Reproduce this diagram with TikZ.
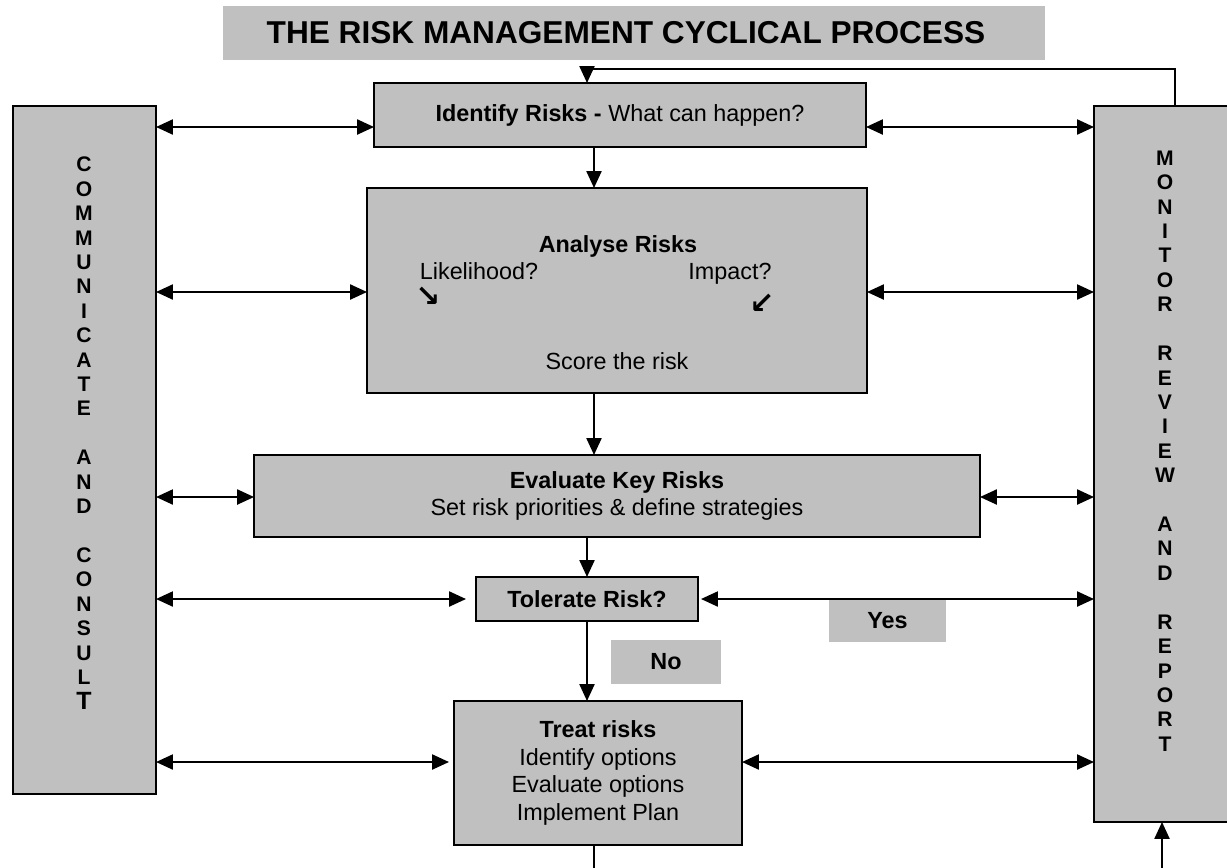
\documentclass[tikz,border=0pt]{standalone}
\usepackage{fontspec}
\setmainfont{Liberation Sans}
\newfontfamily\arrowfont{DejaVu Sans}
\usetikzlibrary{arrows.meta,positioning,calc}
\definecolor{panelgray}{RGB}{192,192,192}

\begin{document}
\begin{tikzpicture}[
    x=0.02cm, y=-0.02cm,
    box/.style={draw, line width=1pt, fill=panelgray, inner sep=0pt, outer sep=0pt, align=center, font=\fontsize{13.3}{15.8}\selectfont},
    tag/.style={fill=panelgray, inner sep=0pt, outer sep=0pt, font=\bfseries\fontsize{13.3}{16}\selectfont},
    sidebar/.style={draw, line width=1pt, fill=panelgray, inner sep=0pt, outer sep=0pt},
    lettering/.style={align=center, inner sep=0pt, font=\bfseries\fontsize{12}{13.9}\selectfont},
    pointer/.style={anchor=base, font=\arrowfont\bfseries\fontsize{17}{18}\selectfont},
    arrow/.style={-{Triangle[length=3.4mm, width=3mm]}, line width=1.3pt},
    dblarrow/.style={{Triangle[length=3.4mm, width=3mm]}-{Triangle[length=3.4mm, width=3mm]}, line width=1.3pt},
    every node/.style={font=\fontsize{13.3}{15.8}\selectfont}
]
\useasboundingbox (0,0) rectangle (1227,867);

% Title
\node[tag, minimum width=16.44cm, minimum height=1.08cm] (title) at (634,33) {};
\node[font=\bfseries\fontsize{18}{20}\selectfont] (titletxt) at (626,33) {THE RISK MANAGEMENT CYCLICAL PROCESS};

% Side panels
\node[sidebar, minimum width=2.86cm, minimum height=13.76cm] (comm) at (84.5,450) {};
\node[lettering] (commtxt) at (84,433) {C\\O\\M\\M\\U\\N\\I\\C\\A\\T\\E\\[13.9pt]A\\N\\D\\[13.9pt]C\\O\\N\\S\\U\\L\\{\fontsize{14.2}{13.9}\selectfont T}};
\node[sidebar, minimum width=2.84cm, minimum height=14.32cm] (monitor) at (1165,464) {};
\node[lettering] (montxt) at (1165,451) {M\\O\\N\\I\\T\\O\\R\\[13.9pt]R\\E\\V\\I\\E\\W\\[13.9pt]A\\N\\D\\[13.9pt]R\\E\\P\\O\\R\\T};

% Process steps
\node[box, minimum width=9.84cm, minimum height=1.28cm] (identify) at (620,115) {\textbf{Identify Risks -} What can happen?};
\node[box, minimum width=10cm, minimum height=4.1cm] (analyse) at (617,290.5) {};
\node[font=\bfseries\fontsize{13.3}{16}\selectfont] (analysehd) at (618,246) {Analyse Risks};
\node[anchor=base] (likely) at (479,279) {Likelihood?};
\node[anchor=base] (impact) at (730,279) {Impact?};
\node[pointer] (downright) at (428,306) {↘};
\node[pointer] (downleft) at (762,313) {↙};
\node (score) at (617,361) {Score the risk};
\node[box, minimum width=14.52cm, minimum height=1.64cm] (evaluate) at (617,496) {\textbf{Evaluate Key Risks}\\Set risk priorities \& define strategies};
\node[box, minimum width=4.44cm, minimum height=0.88cm, font=\bfseries\fontsize{13.3}{16}\selectfont] (tolerate) at (587,599) {Tolerate Risk?};
\node[box, minimum width=5.76cm, minimum height=2.88cm] (treat) at (598,773) {\textbf{Treat risks}\\Identify options\\Evaluate options\\Implement Plan};
\node[tag, minimum width=2.2cm, minimum height=0.88cm] (no) at (666,662) {No};
\node[tag, minimum width=2.34cm, minimum height=0.86cm] (yes) at (887.5,620.5) {Yes};

% Helper rows and columns
\coordinate (rowA) at (0,127);
\coordinate (rowB) at (0,292);
\coordinate (rowC) at (0,497);
\coordinate (rowD) at (0,599);
\coordinate (rowE) at (0,762);
\coordinate (spineA) at (594,0);
\coordinate (spineB) at (587,0);
\coordinate (backtop) at (1175,69);
\coordinate (backbot) at (1162,869);

% Main flow
\draw[arrow] (identify.south -| spineA) -- (analyse.north -| spineA);
\draw[arrow] (analyse.south -| spineA) -- (evaluate.north -| spineA);
\draw[arrow] (evaluate.south -| spineB) -- (tolerate.north -| spineB);
\draw[arrow] (tolerate.south -| spineB) -- (treat.north -| spineB);

% Communicate and consult links
\draw[dblarrow] (comm.east |- rowA) -- (identify.west |- rowA);
\draw[dblarrow] (comm.east |- rowB) -- (analyse.west |- rowB);
\draw[dblarrow] (comm.east |- rowC) -- (evaluate.west |- rowC);
\draw[dblarrow, shorten >=0.2cm] (comm.east |- rowD) -- (tolerate.west |- rowD);
\draw[dblarrow, shorten >=0.1cm] (comm.east |- rowE) -- (treat.west |- rowE);

% Monitor links
\draw[dblarrow] (identify.east |- rowA) -- (monitor.west |- rowA);
\draw[dblarrow] (analyse.east |- rowB) -- (monitor.west |- rowB);
\draw[dblarrow] (evaluate.east |- rowC) -- (monitor.west |- rowC);
\draw[dblarrow, shorten <=0.06cm] (tolerate.east |- rowD) -- (monitor.west |- rowD);
\draw[dblarrow] (treat.east |- rowE) -- (monitor.west |- rowE);

% Feedback loop
\draw[arrow] (monitor.north -| backtop) |- (backtop -| spineB) -- (identify.north -| spineB);
\draw[arrow] (treat.south -| spineA) |- (backbot) -- (monitor.south -| backbot);

\end{tikzpicture}
\end{document}
